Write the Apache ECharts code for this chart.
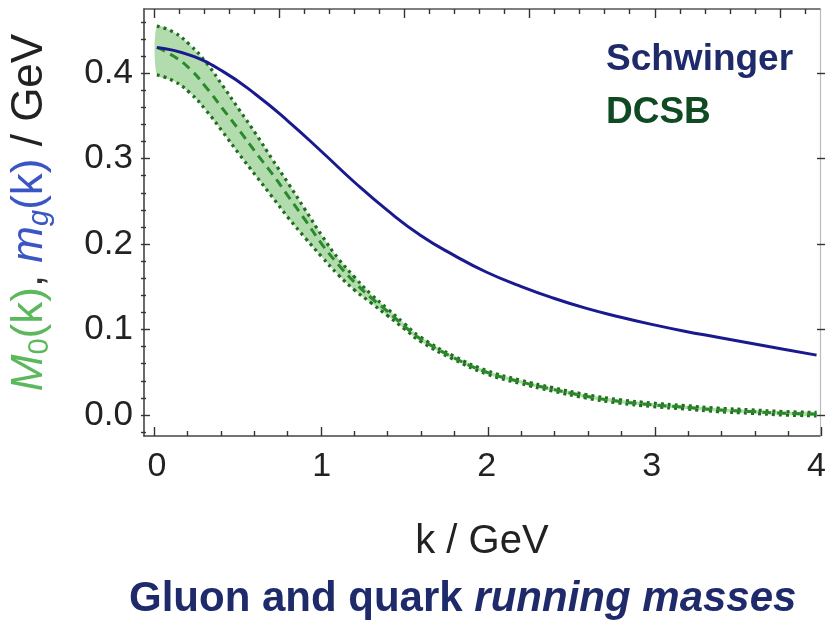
<!DOCTYPE html>
<html>
<head>
<meta charset="utf-8">
<script src="https://cdn.jsdelivr.net/npm/echarts@6/dist/echarts.min.js"></script>
<style>
  html, body { margin: 0; padding: 0; background: #fff; }
  #chart { width: 829px; height: 620px; }
</style>
</head>
<body>
<div id="chart"></div>
<script>
// k grid for the DCSB band (GeV)
const bandK = [0, 0.1, 0.2, 0.3, 0.4, 0.5, 0.6, 0.7, 0.8, 0.9, 1.0, 1.1, 1.2, 1.3, 1.4, 1.5, 1.6,
  1.8, 2.0, 2.2, 2.4, 2.6, 2.8, 3.0, 3.2, 3.4, 3.6, 3.8, 4.0];
const dcsbCenter = [0.430, 0.420, 0.405, 0.383, 0.358, 0.333, 0.307, 0.282, 0.255, 0.228, 0.200, 0.176, 0.155, 0.137, 0.121, 0.104, 0.089,
  0.067, 0.050, 0.039, 0.030, 0.022, 0.016, 0.012, 0.009, 0.006, 0.004, 0.002, 0.001];
const dcsbUpper = [0.455, 0.448, 0.433, 0.412, 0.385, 0.357, 0.329, 0.299, 0.270, 0.240, 0.210, 0.183, 0.161, 0.141, 0.124, 0.107, 0.091,
  0.069, 0.052, 0.041, 0.032, 0.024, 0.018, 0.014, 0.011, 0.008, 0.006, 0.004, 0.003];
const dcsbLower = [0.398, 0.391, 0.377, 0.356, 0.331, 0.305, 0.280, 0.255, 0.230, 0.207, 0.185, 0.164, 0.146, 0.131, 0.116, 0.101, 0.086,
  0.065, 0.048, 0.037, 0.028, 0.020, 0.014, 0.010, 0.007, 0.004, 0.002, 0.000, -0.001];

// Schwinger (gluon) running mass
const schwK = [0, 0.2, 0.4, 0.6, 0.8, 1.0, 1.2, 1.4, 1.6, 1.8, 2.0, 2.2, 2.4, 2.6, 2.8, 3.0, 3.2, 3.4, 3.6, 3.8, 4.0];
const schwM = [0.430, 0.421, 0.402, 0.375, 0.343, 0.308, 0.272, 0.239, 0.210, 0.187, 0.167, 0.151, 0.137, 0.125, 0.115, 0.106, 0.098, 0.091, 0.084, 0.077, 0.070];

// ticks
const xMajor = [0, 1, 2, 3, 4];
const xMinor = [0.2, 0.4, 0.6, 0.8, 1.2, 1.4, 1.6, 1.8, 2.2, 2.4, 2.6, 2.8, 3.2, 3.4, 3.6, 3.8];
const xTopMajor = [0, 0.75, 1.5, 2.25, 3, 3.75];
const xTopMinor = [0.15, 0.3, 0.45, 0.6, 0.9, 1.05, 1.2, 1.35, 1.65, 1.8, 1.95, 2.1, 2.4, 2.55, 2.7, 2.85,
  3.15, 3.3, 3.45, 3.6, 3.9];
const yMajor = [0.0, 0.1, 0.2, 0.3, 0.4];
const yMinor = [-0.02, 0.02, 0.04, 0.06, 0.08, 0.12, 0.14, 0.16, 0.18, 0.22, 0.24, 0.26, 0.28,
  0.32, 0.34, 0.36, 0.38, 0.42, 0.44, 0.46];

const X_MIN = -0.078, X_MAX = 4.02;
const Y_MIN = -0.0246, Y_MAX = 0.475;

const FONT = "'Liberation Sans', Arial, sans-serif";
const navy = "#1f2a6b";
const dkGreen = "#1f6e1f";

const pair = (xs, ys) => xs.map((x, i) => [x, ys[i]]);

const chart = echarts.init(document.getElementById("chart"));

function xAx(grid, pos, ticks, len, extra) {
  return Object.assign({
    type: "value", gridIndex: grid, position: pos, min: X_MIN, max: X_MAX,
    axisLine: { show: false, onZero: false },
    axisTick: ticks
      ? { show: true, inside: true, length: len, customValues: ticks, lineStyle: { color: "#333", width: 1.4 } }
      : { show: false },
    axisLabel: { show: false },
    splitLine: { show: false },
  }, extra || {});
}
function yAx(grid, pos, ticks, len, extra) {
  return Object.assign({
    type: "value", gridIndex: grid, position: pos, min: Y_MIN, max: Y_MAX,
    axisLine: { show: false, onZero: false },
    axisTick: ticks
      ? { show: true, inside: true, length: len, customValues: ticks, lineStyle: { color: "#333", width: 1.4 } }
      : { show: false },
    axisLabel: { show: false },
    splitLine: { show: false },
  }, extra || {});
}

// shaded DCSB band: polygon through upper curve then lower curve reversed
function renderBand(params, api) {
  if (params.dataIndex !== 0) return;
  const pts = [];
  for (let i = 0; i < bandK.length; i++) pts.push(api.coord([bandK[i], dcsbUpper[i]]));
  for (let i = bandK.length - 1; i >= 0; i--) pts.push(api.coord([bandK[i], dcsbLower[i]]));
  return {
    type: "polygon",
    shape: { points: pts, smooth: 0.25 },
    style: { fill: "#b3dcae" },
  };
}

const gridBox = { left: 141, right: 4, top: 9, bottom: 184 };
const frameLine = (c) => ({ show: true, onZero: false, lineStyle: { color: c, width: 1.6 } });

const option = {
  backgroundColor: "#fff",
  animation: false,
  // grid 0: data, frame and labels; grid 1: minor ticks; grid 2: major ticks
  grid: [Object.assign({}, gridBox), Object.assign({}, gridBox), Object.assign({}, gridBox)],
  title: {
    left: 124, top: 573,
    text: "{a|Gluon and quark }{b|running masses}",
    textStyle: {
      rich: {
        a: { fontFamily: FONT, fontWeight: "bold", fontSize: 42, color: navy },
        b: { fontFamily: FONT, fontWeight: "bold", fontStyle: "italic", fontSize: 42, color: navy },
      },
    },
  },
  legend: {
    orient: "vertical", left: 596, top: 36, itemWidth: 0, itemHeight: 0, itemGap: 16,
    selectedMode: false,
    textStyle: { fontFamily: FONT, fontWeight: "bold", fontSize: 37 },
    data: [
      { name: "Schwinger", icon: "none", textStyle: { color: navy } },
      { name: "DCSB", icon: "none", textStyle: { color: "#0f4a22" } },
    ],
  },
  xAxis: [
    xAx(0, "bottom", null, 0, {
      axisLine: frameLine("#444"),
      axisLabel: { show: true, customValues: xMajor, margin: 14, fontSize: 34, fontFamily: FONT, color: "#222" },
      name: "k / GeV", nameLocation: "middle", nameGap: 86,
      nameTextStyle: { fontSize: 40, fontFamily: FONT, color: "#222" },
    }),
    xAx(0, "top", null, 0, { axisLine: frameLine("#555") }),
    xAx(1, "bottom", xMinor, 5),
    xAx(1, "top", xTopMinor, 5),
    xAx(2, "bottom", xMajor, 9),
    xAx(2, "top", xTopMajor, 9),
  ],
  yAxis: [
    yAx(0, "left", null, 0, {
      axisLine: frameLine("#444"),
      axisLabel: { show: true, customValues: yMajor, margin: 11, fontSize: 35, fontFamily: FONT, color: "#222",
        formatter: (v) => v.toFixed(1) },
      name: "{m|M}{s|0}{n|(k)}{c|, }{mb|m}{sb|g}{nb|(k)}{t| / GeV}",
      nameLocation: "middle", nameGap: 90, nameRotate: 90,
      nameTextStyle: {
        padding: [0, 0, 0, 20],
        rich: {
          m: { fontFamily: FONT, fontStyle: "italic", fontSize: 44, color: "#5cb85c", lineHeight: 48 },
          s: { fontFamily: FONT, fontSize: 29, color: "#5cb85c", verticalAlign: "bottom", lineHeight: 26 },
          n: { fontFamily: FONT, fontSize: 44, color: "#5cb85c", lineHeight: 48 },
          c: { fontFamily: FONT, fontSize: 44, color: "#333", lineHeight: 48 },
          mb: { fontFamily: FONT, fontStyle: "italic", fontSize: 44, color: "#3a56c4", lineHeight: 48 },
          sb: { fontFamily: FONT, fontStyle: "italic", fontSize: 29, color: "#3a56c4", verticalAlign: "bottom", lineHeight: 26 },
          nb: { fontFamily: FONT, fontSize: 44, color: "#3a56c4", lineHeight: 48 },
          t: { fontFamily: FONT, fontSize: 44, color: "#222", lineHeight: 48 },
        },
      },
    }),
    yAx(0, "right", null, 0, { axisLine: { show: true, onZero: false, lineStyle: { color: "#bbb", width: 1.2 } } }),
    yAx(1, "left", yMinor, 5),
    yAx(2, "left", yMajor, 9),
    yAx(2, "right", yMajor, 8),
  ],
  series: [
    {
      name: "band", type: "custom", renderItem: renderBand, silent: true, z: 1,
      data: bandK.map((k, i) => [k, dcsbUpper[i], dcsbLower[i]]),
      encode: { x: 0, y: [1, 2] },
    },
    {
      name: "upper", type: "line", smooth: true, symbol: "none", data: pair(bandK, dcsbUpper),
      lineStyle: { color: dkGreen, width: 3.2, type: [3, 4] }, z: 3,
    },
    {
      name: "lower", type: "line", smooth: true, symbol: "none", data: pair(bandK, dcsbLower),
      lineStyle: { color: dkGreen, width: 3.2, type: [3, 4] }, z: 3,
    },
    {
      name: "DCSB", type: "line", smooth: true, symbol: "none", data: pair(bandK, dcsbCenter),
      color: dkGreen, lineStyle: { color: "#2a8a2a", width: 3, type: [9, 6] }, z: 3,
    },
    {
      name: "Schwinger", type: "line", smooth: true, symbol: "none", data: pair(schwK, schwM),
      color: "#1a1a8f", lineStyle: { color: "#1a1a8f", width: 3 }, z: 4,
    },
  ],
};

option && chart.setOption(option);
</script>
</body>
</html>
